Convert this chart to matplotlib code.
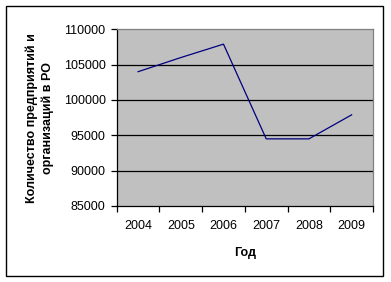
import matplotlib
matplotlib.use("Agg")
import matplotlib.pyplot as plt
from matplotlib.patches import Rectangle

years = ["2004", "2005", "2006", "2007", "2008", "2009"]
values = [104000, 106000, 107900, 94500, 94500, 97900]
yticks = [85000, 90000, 95000, 100000, 105000, 110000]

plt.rcParams['font.family'] = ['Liberation Sans', 'DejaVu Sans']

W, H = 391, 282
fig = plt.figure(figsize=(W / 100, H / 100), dpi=100)
fig.patch.set_facecolor("white")

# outer border
fig.patches.append(Rectangle((6 / W, 1 - 276 / H), (383 - 6) / W, (276 - 6) / H,
                             transform=fig.transFigure, fill=False,
                             edgecolor="black", linewidth=1.0))

ax = fig.add_axes([116.7 / W, 1 - 206 / H, (373 - 116.7) / W, (206 - 29.3) / H])
ax.set_facecolor("#C0C0C0")

x = list(range(len(years)))
ax.plot(x, values, color="#000080", linewidth=0.9)

ax.set_xlim(-0.5, len(years) - 0.5)
ax.set_ylim(85000, 110000)
ax.set_yticks(yticks)
ax.set_yticklabels([str(v) for v in yticks], fontsize=9)
for v in yticks[1:-1]:
    ax.axhline(v, color="black", linewidth=0.9, zorder=1)

ax.set_xticks([i - 0.5 for i in range(len(years) + 1)])
ax.set_xticklabels([])
ax.set_xticks(x, minor=True)
ax.set_xticklabels(years, minor=True, fontsize=9)
ax.tick_params(axis="x", which="minor", length=0, pad=10)
ax.tick_params(axis="x", which="major", length=4, width=0.9, direction="out")
ax.tick_params(axis="y", length=4, width=0.9, direction="out", pad=4)

for side in ["top", "right"]:
    ax.spines[side].set_color("#808080")
    ax.spines[side].set_linewidth(0.9)
for side in ["left", "bottom"]:
    ax.spines[side].set_color("black")
    ax.spines[side].set_linewidth(0.9)

ax.set_xlabel("Год", fontsize=9, fontweight="bold", labelpad=11)
ax.set_ylabel("Количество предприятий и\nорганизаций в РО", fontsize=9,
              fontweight="bold", labelpad=7, linespacing=1.35)

fig.savefig("out.png", dpi=100)
